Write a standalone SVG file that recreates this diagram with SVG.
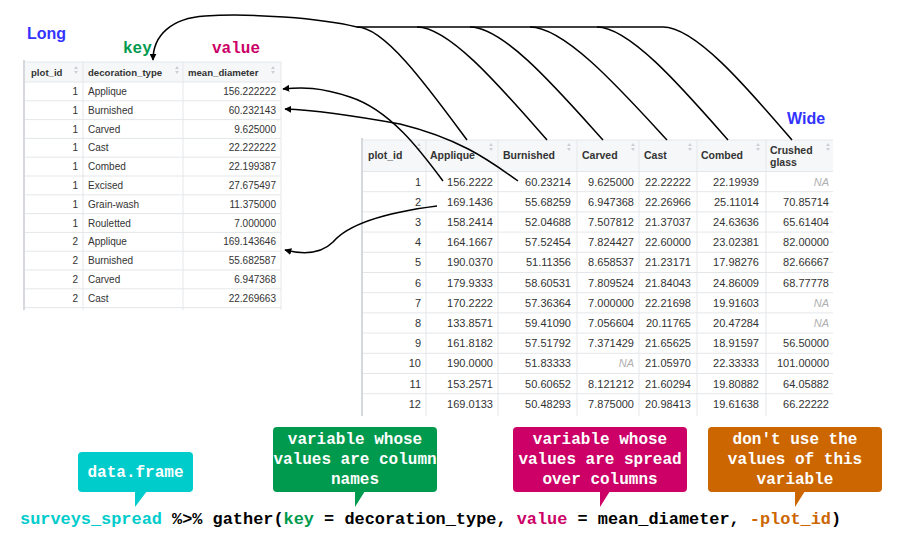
<svg xmlns="http://www.w3.org/2000/svg" xmlns:xlink="http://www.w3.org/1999/xlink" width="898" height="548" viewBox="0 0 898 548">
<defs>
<style>
.hd{font-family:"Liberation Sans",Arial,sans-serif;font-weight:bold;fill:#333}
.lh{font-size:9.6px}
.wh{font-size:10.5px}
.ld{font-family:"Liberation Sans",Arial,sans-serif;font-size:10px;fill:#333}
.wd{font-family:"Liberation Sans",Arial,sans-serif;font-size:11px;fill:#333}
.na{font-style:italic;fill:#b0b0b0}
.r{text-anchor:end}
.grid{stroke:#e4e7ea;stroke-width:1;fill:none}
.hbg{fill:#f6f7f8}
.title{font-family:"Liberation Sans",Arial,sans-serif;font-weight:bold;font-size:16px;fill:#3333ff}
.mono{font-family:"Liberation Mono","Courier New",monospace;font-weight:bold}
.call{font-family:"Liberation Mono","Courier New",monospace;font-weight:bold;font-size:16px;fill:#fff;text-anchor:middle}
.con{fill:none;stroke:#000;stroke-width:1.5}
.sort{fill:#cdd0d3}
</style>
<g id="sorticon"><polygon class="sort" points="-2,-1 2,-1 0,-4"/><polygon class="sort" points="-2,1 2,1 0,4"/></g>
<marker id="ah" viewBox="0 0 10 10" refX="9" refY="5" markerWidth="7" markerHeight="7" markerUnits="userSpaceOnUse" orient="auto"><path d="M0,0 L10,5 L0,10 z" fill="#000"/></marker>
<clipPath id="wclip"><rect x="355" y="130" width="478" height="300"/></clipPath>
</defs>
<rect width="898" height="548" fill="#fff"/>

<g id="labels">
<text class="title" x="27" y="39">Long</text>
<text class="title" x="787" y="124">Wide</text>
<text class="mono" x="123" y="53" font-size="16" fill="#009a4e">key</text>
<text class="mono" x="212" y="53" font-size="16" fill="#cc0066">value</text>
</g>

<g id="long-table">
<rect class="hbg" x="24" y="62" width="257" height="20"/>
<g class="grid">
<line x1="24" y1="62" x2="281" y2="62"/>
<line x1="24" y1="82" x2="281" y2="82"/>
<line x1="24" y1="100.8" x2="281" y2="100.8"/>
<line x1="24" y1="119.6" x2="281" y2="119.6"/>
<line x1="24" y1="138.4" x2="281" y2="138.4"/>
<line x1="24" y1="157.2" x2="281" y2="157.2"/>
<line x1="24" y1="176" x2="281" y2="176"/>
<line x1="24" y1="194.8" x2="281" y2="194.8"/>
<line x1="24" y1="213.6" x2="281" y2="213.6"/>
<line x1="24" y1="232.4" x2="281" y2="232.4"/>
<line x1="24" y1="251.2" x2="281" y2="251.2"/>
<line x1="24" y1="270" x2="281" y2="270"/>
<line x1="24" y1="288.8" x2="281" y2="288.8"/>
<line x1="24" y1="307.6" x2="281" y2="307.6"/>
<line x1="83" y1="62" x2="83" y2="310"/>
<line x1="183" y1="62" x2="183" y2="310"/>
<line x1="281" y1="62" x2="281" y2="310"/>
</g>
<line x1="24" y1="60" x2="24" y2="310" stroke="#d5d9dd" stroke-width="2"/>
<text class="hd lh" x="31" y="76">plot_id</text>
<text class="hd lh" x="88" y="76">decoration_type</text>
<text class="hd lh" x="188" y="76">mean_diameter</text>
<use xlink:href="#sorticon" x="76" y="70"/>
<use xlink:href="#sorticon" x="177" y="70"/>
<use xlink:href="#sorticon" x="273" y="70"/>
<g class="ld">
<text class="r" x="78" y="94.9">1</text><text x="88" y="94.9">Applique</text><text class="r" x="276" y="94.9">156.222222</text>
<text class="r" x="78" y="113.7">1</text><text x="88" y="113.7">Burnished</text><text class="r" x="276" y="113.7">60.232143</text>
<text class="r" x="78" y="132.5">1</text><text x="88" y="132.5">Carved</text><text class="r" x="276" y="132.5">9.625000</text>
<text class="r" x="78" y="151.3">1</text><text x="88" y="151.3">Cast</text><text class="r" x="276" y="151.3">22.222222</text>
<text class="r" x="78" y="170.1">1</text><text x="88" y="170.1">Combed</text><text class="r" x="276" y="170.1">22.199387</text>
<text class="r" x="78" y="188.9">1</text><text x="88" y="188.9">Excised</text><text class="r" x="276" y="188.9">27.675497</text>
<text class="r" x="78" y="207.7">1</text><text x="88" y="207.7">Grain-wash</text><text class="r" x="276" y="207.7">11.375000</text>
<text class="r" x="78" y="226.5">1</text><text x="88" y="226.5">Rouletted</text><text class="r" x="276" y="226.5">7.000000</text>
<text class="r" x="78" y="245.3">2</text><text x="88" y="245.3">Applique</text><text class="r" x="276" y="245.3">169.143646</text>
<text class="r" x="78" y="264.1">2</text><text x="88" y="264.1">Burnished</text><text class="r" x="276" y="264.1">55.682587</text>
<text class="r" x="78" y="282.9">2</text><text x="88" y="282.9">Carved</text><text class="r" x="276" y="282.9">6.947368</text>
<text class="r" x="78" y="301.7">2</text><text x="88" y="301.7">Cast</text><text class="r" x="276" y="301.7">22.269663</text>
</g>
</g>

<g id="wide-table" clip-path="url(#wclip)">
<rect class="hbg" x="362" y="140" width="480" height="31.5"/>
<g class="grid">
<line x1="362" y1="140" x2="840" y2="140"/>
<line x1="362" y1="171.5" x2="840" y2="171.5"/>
<line x1="362" y1="191.7" x2="840" y2="191.7"/>
<line x1="362" y1="211.9" x2="840" y2="211.9"/>
<line x1="362" y1="232.1" x2="840" y2="232.1"/>
<line x1="362" y1="252.3" x2="840" y2="252.3"/>
<line x1="362" y1="272.5" x2="840" y2="272.5"/>
<line x1="362" y1="292.7" x2="840" y2="292.7"/>
<line x1="362" y1="312.9" x2="840" y2="312.9"/>
<line x1="362" y1="333.1" x2="840" y2="333.1"/>
<line x1="362" y1="353.3" x2="840" y2="353.3"/>
<line x1="362" y1="373.5" x2="840" y2="373.5"/>
<line x1="362" y1="393.7" x2="840" y2="393.7"/>
<line x1="426" y1="140" x2="426" y2="416"/>
<line x1="498" y1="140" x2="498" y2="416"/>
<line x1="577" y1="140" x2="577" y2="416"/>
<line x1="639" y1="140" x2="639" y2="416"/>
<line x1="697" y1="140" x2="697" y2="416"/>
<line x1="766" y1="140" x2="766" y2="416"/>
</g>
<line x1="362" y1="138" x2="362" y2="416" stroke="#d5d9dd" stroke-width="2"/>
<text class="hd wh" x="368" y="159">plot_id</text>
<text class="hd wh" x="430" y="159">Applique</text>
<text class="hd wh" x="503" y="159">Burnished</text>
<text class="hd wh" x="582" y="159">Carved</text>
<text class="hd wh" x="644" y="159">Cast</text>
<text class="hd wh" x="701" y="159">Combed</text>
<text class="hd wh" x="770" y="154">Crushed</text>
<text class="hd wh" x="770" y="166">glass</text>
<use xlink:href="#sorticon" x="419" y="147"/>
<use xlink:href="#sorticon" x="491" y="147"/>
<use xlink:href="#sorticon" x="569" y="147"/>
<use xlink:href="#sorticon" x="633" y="147"/>
<use xlink:href="#sorticon" x="690" y="147"/>
<use xlink:href="#sorticon" x="758" y="147"/>
<use xlink:href="#sorticon" x="828" y="147"/>
<g class="wd r">
<text x="421" y="185.6">1</text><text x="493" y="185.6">156.2222</text><text x="571" y="185.6">60.23214</text><text x="634" y="185.6">9.625000</text><text x="691" y="185.6">22.22222</text><text x="759" y="185.6">22.19939</text><text class="na" x="829" y="185.6">NA</text>
<text x="421" y="205.8">2</text><text x="493" y="205.8">169.1436</text><text x="571" y="205.8">55.68259</text><text x="634" y="205.8">6.947368</text><text x="691" y="205.8">22.26966</text><text x="759" y="205.8">25.11014</text><text x="829" y="205.8">70.85714</text>
<text x="421" y="226">3</text><text x="493" y="226">158.2414</text><text x="571" y="226">52.04688</text><text x="634" y="226">7.507812</text><text x="691" y="226">21.37037</text><text x="759" y="226">24.63636</text><text x="829" y="226">65.61404</text>
<text x="421" y="246.2">4</text><text x="493" y="246.2">164.1667</text><text x="571" y="246.2">57.52454</text><text x="634" y="246.2">7.824427</text><text x="691" y="246.2">22.60000</text><text x="759" y="246.2">23.02381</text><text x="829" y="246.2">82.00000</text>
<text x="421" y="266.4">5</text><text x="493" y="266.4">190.0370</text><text x="571" y="266.4">51.11356</text><text x="634" y="266.4">8.658537</text><text x="691" y="266.4">21.23171</text><text x="759" y="266.4">17.98276</text><text x="829" y="266.4">82.66667</text>
<text x="421" y="286.6">6</text><text x="493" y="286.6">179.9333</text><text x="571" y="286.6">58.60531</text><text x="634" y="286.6">7.809524</text><text x="691" y="286.6">21.84043</text><text x="759" y="286.6">24.86009</text><text x="829" y="286.6">68.77778</text>
<text x="421" y="306.8">7</text><text x="493" y="306.8">170.2222</text><text x="571" y="306.8">57.36364</text><text x="634" y="306.8">7.000000</text><text x="691" y="306.8">22.21698</text><text x="759" y="306.8">19.91603</text><text class="na" x="829" y="306.8">NA</text>
<text x="421" y="327">8</text><text x="493" y="327">133.8571</text><text x="571" y="327">59.41090</text><text x="634" y="327">7.056604</text><text x="691" y="327">20.11765</text><text x="759" y="327">20.47284</text><text class="na" x="829" y="327">NA</text>
<text x="421" y="347.2">9</text><text x="493" y="347.2">161.8182</text><text x="571" y="347.2">57.51792</text><text x="634" y="347.2">7.371429</text><text x="691" y="347.2">21.65625</text><text x="759" y="347.2">18.91597</text><text x="829" y="347.2">56.50000</text>
<text x="421" y="367.4">10</text><text x="493" y="367.4">190.0000</text><text x="571" y="367.4">51.83333</text><text class="na" x="634" y="367.4">NA</text><text x="691" y="367.4">21.05970</text><text x="759" y="367.4">22.33333</text><text x="829" y="367.4">101.00000</text>
<text x="421" y="387.6">11</text><text x="493" y="387.6">153.2571</text><text x="571" y="387.6">50.60652</text><text x="634" y="387.6">8.121212</text><text x="691" y="387.6">21.60294</text><text x="759" y="387.6">19.80882</text><text x="829" y="387.6">64.05882</text>
<text x="421" y="407.8">12</text><text x="493" y="407.8">169.0133</text><text x="571" y="407.8">50.48293</text><text x="634" y="407.8">7.875000</text><text x="691" y="407.8">20.98413</text><text x="759" y="407.8">19.61638</text><text x="829" y="407.8">66.22222</text>
</g>
</g>

<g id="connectors">
<path class="con" marker-end="url(#ah)" d="M663,27 L357,27 C320,18 250,13 205,16 C172,18 153,35 153,60"/>
<path class="con" d="M357,27 C385,27 430,90 467,140"/>
<path class="con" d="M417,27 C450,27 503,90 547,140"/>
<path class="con" d="M470,27 C504,27 558,90 603,140"/>
<path class="con" d="M530,27 C565,27 621,90 667,140"/>
<path class="con" d="M597,27 C630,27 684,90 728,140"/>
<path class="con" d="M663,27 C696,27 749,90 792,140"/>
<path class="con" marker-end="url(#ah)" d="M443,181 C420,150 390,110 350,97 C320,87 302,87 283,89"/>
<path class="con" marker-end="url(#ah)" d="M518,181 C495,165 465,140 400,124 C350,115 310,110 285,109"/>
<path class="con" marker-end="url(#ah)" d="M437,206 C390,212 350,222 333,242 C322,253 305,255 285,250"/>
</g>

<g id="callout-dataframe">
<rect x="78" y="452" width="115" height="40" rx="4" fill="#00cccc"/>
<polygon points="135,491 135,507 147,491" fill="#00cccc"/>
<text class="call" x="135.5" y="477" font-size="17">data.frame</text>
</g>
<g id="callout-key">
<rect x="273" y="427" width="164" height="65" rx="4" fill="#009a4e"/>
<polygon points="355,491 355,507 365,491" fill="#009a4e"/>
<text class="call" x="355" y="444">variable whose</text>
<text class="call" x="355" y="464">values are column</text>
<text class="call" x="355" y="484">names</text>
</g>
<g id="callout-value">
<rect x="513" y="427" width="174" height="65" rx="4" fill="#cc0066"/>
<polygon points="600,491 600,507 610,491" fill="#cc0066"/>
<text class="call" x="600" y="444">variable whose</text>
<text class="call" x="600" y="464">values are spread</text>
<text class="call" x="600" y="484">over columns</text>
</g>
<g id="callout-exclude">
<rect x="708" y="427" width="174" height="65" rx="4" fill="#cc6600"/>
<polygon points="795,491 795,507 805,491" fill="#cc6600"/>
<text class="call" x="795" y="444">don't use the</text>
<text class="call" x="795" y="464">values of this</text>
<text class="call" x="795" y="484">variable</text>
</g>

<g id="code">
<text class="mono" x="20" y="524" font-size="16.9" fill="#000"><tspan fill="#00cccc">surveys_spread</tspan> %&gt;% gather(<tspan fill="#009a4e">key</tspan> = decoration_type, <tspan fill="#cc0066">value</tspan> = mean_diameter, <tspan fill="#cc6600">-plot_id</tspan>)</text>
</g>
</svg>
